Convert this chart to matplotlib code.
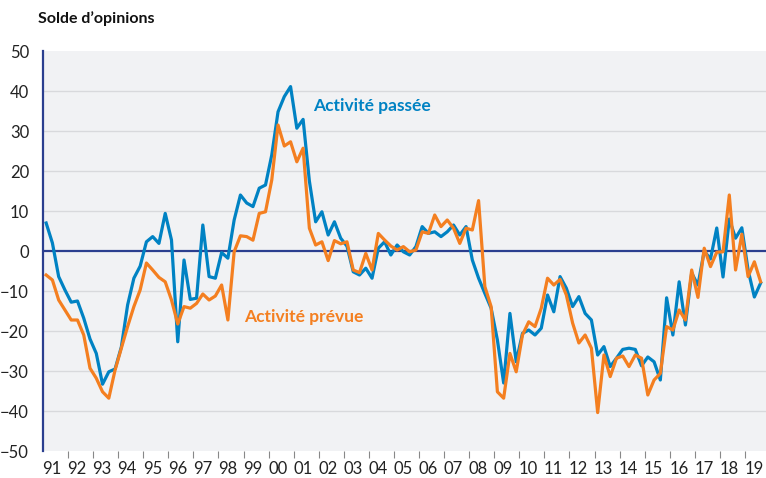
import numpy as np
import matplotlib.pyplot as plt

# données trimestrielles, 1991T1 - 2019T3
activite_passee = [
    7, 2, -6.4, -9.75, -12.8, -12.5, -16.8, -22, -25.6, -33.3, -30.2, -29.5,
    -24, -13.5, -6.8, -3.8, 2.3, 3.6, 1.9, 9.4, 2.75, -22.7, -2.25, -12.1,
    -11.8, 6.5, -6.4, -6.8, -0.4, -1.8, 7.75, 14, 12, 11.1, 15.7, 16.5,
    24, 34.8, 38.6, 41.1, 30.7, 32.9, 17.5, 7.3, 9.8, 4, 7.3, 3.2,
    1.2, -5.2, -6, -4.3, -6.8, 0.7, 2.3, -1, 1.5, -0.2, -1, 1.1,
    6.1, 4.4, 4.8, 3.6, 4.8, 6.5, 4, 6.1, -2.25, -6.8, -10.6, -14.3,
    -22.25, -33, -15.6, -27.7, -20.6, -19.75, -21, -19.3, -11, -15.2, -6.4, -9.3,
    -13.9, -11.4, -15.6, -17.25, -26, -23.9, -28.9, -26.8, -24.6, -24.3, -24.6, -28.7,
    -26.5, -27.7, -32.25, -11.7, -21, -7.7, -18.5, -5.5, -8.5, 0, -2, 5.75,
    -6.5, 8, 3.2, 5.8, -4.75, -11.5, -8,
]
activite_prevue = [
    -6, -7.25, -12.25, -14.75, -17.25, -17.25, -21, -29.3, -31.8, -35.2, -36.8, -29.75,
    -24.3, -18.9, -13.9, -9.75, -3, -4.75, -6.6, -7.7, -12.25, -18.25, -13.9, -14.3,
    -13.1, -10.75, -12.25, -11.25, -8.5, -17.25, -0.2, 3.8, 3.6, 2.7, 9.4, 9.8,
    17.75, 31.5, 26.25, 27.3, 22.3, 25.7, 5.7, 1.5, 2.3, -2.4, 2.6, 1.8,
    2.3, -4.75, -5.4, -0.6, -4.75, 4.4, 2.75, 1.25, 0.25, 1.1, -0.2, 0.25,
    4.8, 4.4, 9, 6.1, 7.75, 5.7, 1.9, 5.7, 5.25, 12.6, -8.9, -13.9,
    -35.2, -36.8, -25.6, -30.2, -21, -17.7, -18.9, -14.3, -6.8, -8.5, -7.1, -11,
    -18, -23, -21, -24.3, -40.4, -26, -31.4, -26.8, -26.25, -28.9, -26, -26.8,
    -36, -32.25, -30.6, -18.9, -19.75, -14.75, -17.25, -4.75, -11.6, 0.7, -3.9, -0.3,
    -0.2, 14, -4.75, 4.2, -6.4, -2.7, -7.7,
]
annees = list(range(1991, 2020))
etiquettes = [f"{a % 100:02d}" for a in annees]

bleu = "#0082c3"
orange = "#f47f20"
bleu_fonce = "#2b3f8f"

plt.rcParams['font.family'] = ['Lato', 'DejaVu Sans']

t = 1991 + (np.arange(len(activite_passee)) + 0.5) / 4

fig = plt.figure(figsize=(7.66, 4.78), dpi=100)
ax = fig.add_axes([43/766, 27/478, 723/766, 400/478])
ax.set_facecolor("#f1f2f4")

for y in range(-40, 50, 10):
    if y != 0:
        ax.axhline(y, color="#d8d9dc", lw=1, zorder=1)
ax.axhline(0, color=bleu_fonce, lw=1.6, zorder=2)

ax.plot(t, activite_passee, color=bleu, lw=2.3, zorder=3, solid_joinstyle='round')
ax.plot(t, activite_prevue, color=orange, lw=2.3, zorder=4, solid_joinstyle='round')

ax.set_xlim(1991, 1991 + 723/25.07)
ax.set_ylim(-50, 50)

for s in ['top', 'right', 'bottom']:
    ax.spines[s].set_visible(False)
ax.spines['left'].set_color(bleu_fonce)
ax.spines['left'].set_linewidth(1.6)

ax.set_yticks(range(-50, 51, 10))
ax.tick_params(axis='y', length=0, pad=10, labelsize=12, labelcolor="#222222")

ax.set_xticks([a + 0.36 for a in annees])
ax.set_xticklabels(etiquettes)
ax.set_xticks(range(1992, 2020), minor=True)
ax.tick_params(axis='x', which='major', length=0, pad=7, labelsize=12, labelcolor="#222222")
ax.tick_params(axis='x', which='minor', length=5, width=0.8, color="#888888")

ax.text(2001.77, 36.3, "Activité passée", color=bleu, fontsize=12.5,
        fontweight='bold', va='center', ha='left', zorder=5)
ax.text(1999.02, -16.5, "Activité prévue", color=orange, fontsize=12.5,
        fontweight='bold', va='center', ha='left', zorder=5)

fig.text(38/766, 1 - 19/478, "Solde d’opinions", fontsize=11.5,
         fontweight='bold', va='center', ha='left', color="#111111")

fig.savefig("out.png", dpi=100)
